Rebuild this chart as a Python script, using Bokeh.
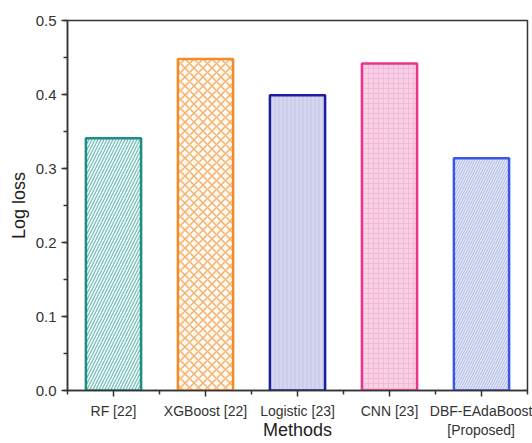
from bokeh.plotting import figure
from bokeh.models import ColumnDataSource, FixedTicker, Range1d
from bokeh.embed import file_html
from bokeh.resources import INLINE

methods = ["RF [22]", "XGBoost [22]", "Logistic [23]", "CNN [23]", "DBF-EAdaBoost\n[Proposed]"]
log_loss = [0.341, 0.448, 0.399, 0.442, 0.314]
y_ticks = [0.0, 0.1, 0.2, 0.3, 0.4, 0.5]

line_colors = ["#1f8c86", "#f28c28", "#1c1ca0", "#e8358c", "#3b55ea"]
fill_colors = ["#eef9f8", "#fffaf3", "#d5d6ed", "#f8d0e5", "#e6eaf8"]
hatch_colors = ["#6fb8b4", "#f4b06c", "#c3c5e6", "#f2b9d7", "#aab5e2"]
hatch_patterns = ["/", "x", "|", "+", "/"]
hatch_scales = [6, 9, 4, 5, 5]
hatch_weights = [1.1, 1.5, 1.0, 1.0, 1.0]

xs = list(range(1, len(methods) + 1))
src = ColumnDataSource(dict(x=xs, top=log_loss, lc=line_colors, fc=fill_colors,
                            hc=hatch_colors, hp=hatch_patterns, hs=hatch_scales, hw=hatch_weights))

p = figure(width=532, height=443, output_backend="svg", toolbar_location=None,
           x_range=Range1d(0.5, 5.5), y_range=Range1d(0, 0.5),
           min_border_left=67, min_border_right=5, min_border_top=20, min_border_bottom=53)
p.xgrid.visible = False
p.ygrid.visible = False
p.outline_line_color = "#333333"
p.outline_line_width = 1.5
p.background_fill_color = "white"
p.border_fill_color = "white"

p.vbar(x="x", top="top", width=0.6, bottom=0, source=src,
       fill_color="fc", line_color="lc", line_width=2.5,
       hatch_pattern="hp", hatch_color="hc", hatch_scale="hs", hatch_weight="hw")

font = "Liberation Sans"
xa = p.xaxis[0]
xa.ticker = FixedTicker(ticks=xs, minor_ticks=[0.5 + i for i in range(6)])
xa.major_label_overrides = {x: m for x, m in zip(xs, methods)}
xa.axis_label = "Methods"
ya = p.yaxis[0]
ya.ticker = FixedTicker(ticks=y_ticks, minor_ticks=[0.05 * i for i in range(11)])
ya.major_label_overrides = {t: f"{t:.1f}" for t in y_ticks}
ya.axis_label = "Log loss"

for ax in (xa, ya):
    ax.axis_line_color = "#333333"
    ax.axis_line_width = 1.5
    ax.major_tick_line_color = "#333333"
    ax.minor_tick_line_color = "#333333"
    ax.major_tick_line_width = 1.5
    ax.minor_tick_line_width = 1.5
    ax.major_tick_out = 6
    ax.major_tick_in = 0
    ax.minor_tick_out = 4
    ax.minor_tick_in = 0
    ax.major_label_text_font = font
    ax.major_label_text_color = "#333333"
    ax.axis_label_text_font = font
    ax.axis_label_text_font_style = "normal"
    ax.axis_label_text_color = "#222222"
    ax.axis_label_text_font_size = "18px"

xa.major_label_text_font_size = "14px"
ya.major_label_text_font_size = "15px"
xa.major_label_standoff = 6
ya.major_label_standoff = 5
xa.axis_label_standoff = -21
ya.axis_label_standoff = 4

open("out.html", "w").write(file_html(p, INLINE))
